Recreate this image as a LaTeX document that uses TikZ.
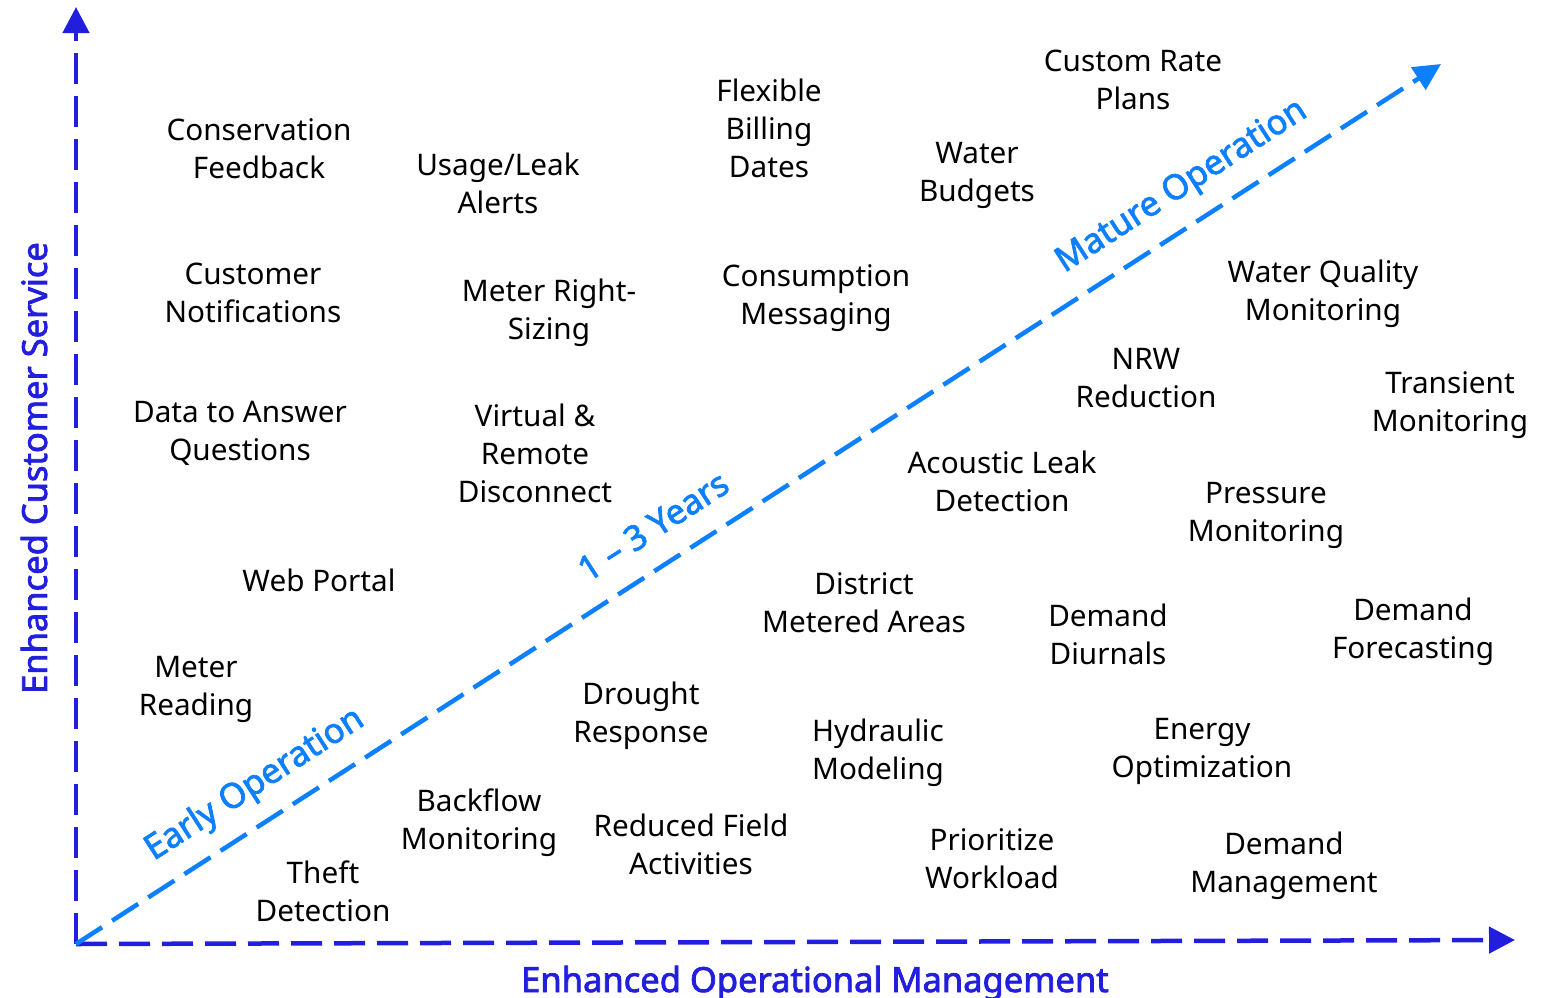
\documentclass[tikz,border=0pt]{standalone}
\usepackage{fontspec}
\setmainfont{Noto Sans}[AutoFakeBold=2.2]
\usetikzlibrary{arrows.meta}
\definecolor{axisblue}{RGB}{34,30,222}
\definecolor{diagblue}{RGB}{12,128,255}
\begin{document}
\begin{tikzpicture}[x=1pt,y=-1pt,
  item/.style={align=center,inner sep=0pt,text=black,font=\fontsize{29.7}{38}\selectfont},
  axisline/.style={draw=axisblue,line width=4.5pt,dash pattern=on 31pt off 12pt,-{Triangle[length=26pt,width=26pt]}},
  diagline/.style={draw=diagblue,line width=4.5pt,dash pattern=on 31pt off 12pt,-{Triangle[length=27pt,width=26pt]}},
  axislabel/.style={inner sep=0pt,text=axisblue,font=\fontsize{34.5}{40}\selectfont\bfseries},
  diaglabel/.style={inner sep=0pt,text=diagblue,font=\fontsize{34.5}{40}\selectfont\bfseries,rotate=32.8}]
\useasboundingbox (0,0) rectangle (1548,997);
\coordinate (o) at (76,944);
\coordinate (ytip) at (76,7);
\coordinate (xtip) at (1515,940);
\coordinate (dtip) at (1441,64);
\draw[axisline] (o) -- (ytip);
\draw[axisline] (o) -- (xtip);
\draw[diagline] (o) -- (dtip);
\node[axislabel,rotate=90] (ylab) at (34,468) {Enhanced Customer Service};
\node[axislabel,anchor=base] (xlab) at (815,992) {Enhanced Operational Management};
\node[diaglabel] (early) at (255,785) {Early Operation};
\node[diaglabel] (years) at (653,526) {1 – 3 Years};
\node[diaglabel] (mature) at (1182,187) {Mature Operation};
\node[item] (n1) at (259,149) {Conservation\\Feedback};
\node[item] (n2) at (498,183) {Usage/Leak\\Alerts};
\node[item] (n3) at (769,128.5) {Flexible\\Billing\\Dates};
\node[item] (n4) at (1133,80) {Custom Rate\\Plans};
\node[item] (n5) at (977,175.5) {Water\\Budgets};
\node[item] (n6) at (253,293) {Customer\\Notifications};
\node[item] (n7) at (549,312.5) {Meter Right-\\Sizing};
\node[item] (n8) at (816,298.5) {Consumption\\Messaging};
\node[item] (n9) at (1323,293.5) {Water Quality\\Monitoring};
\node[item] (n10) at (1146,378) {NRW\\Reduction};
\node[item] (n11) at (1450,405.5) {Transient\\Monitoring};
\node[item] (n12) at (240,433) {Data to Answer\\Questions};
\node[item] (n13) at (535,453) {Virtual \&\\Remote\\Disconnect};
\node[item] (n14) at (1002,481.5) {Acoustic Leak\\Detection};
\node[item] (n15) at (1266,515) {Pressure\\Monitoring};
\node[item] (n16) at (319,580) {Web Portal};
\node[item] (n17) at (864,603) {District\\Metered Areas};
\node[item] (n18) at (1108,634) {Demand\\Diurnals};
\node[item] (n19) at (1413,631.5) {Demand\\Forecasting};
\node[item] (n20) at (196,689.5) {Meter\\Reading};
\node[item] (n21) at (641,716) {Drought\\Response};
\node[item] (n22) at (878,752.5) {Hydraulic\\Modeling};
\node[item] (n23) at (1202,751.5) {Energy\\Optimization};
\node[item] (n24) at (479,822.5) {Backflow\\Monitoring};
\node[item] (n25) at (691,844) {Reduced Field\\Activities};
\node[item] (n26) at (992,859) {Prioritize\\Workload};
\node[item] (n27) at (1284,865.5) {Demand\\Management};
\node[item] (n28) at (323,891) {Theft\\Detection};
\end{tikzpicture}
\end{document}
